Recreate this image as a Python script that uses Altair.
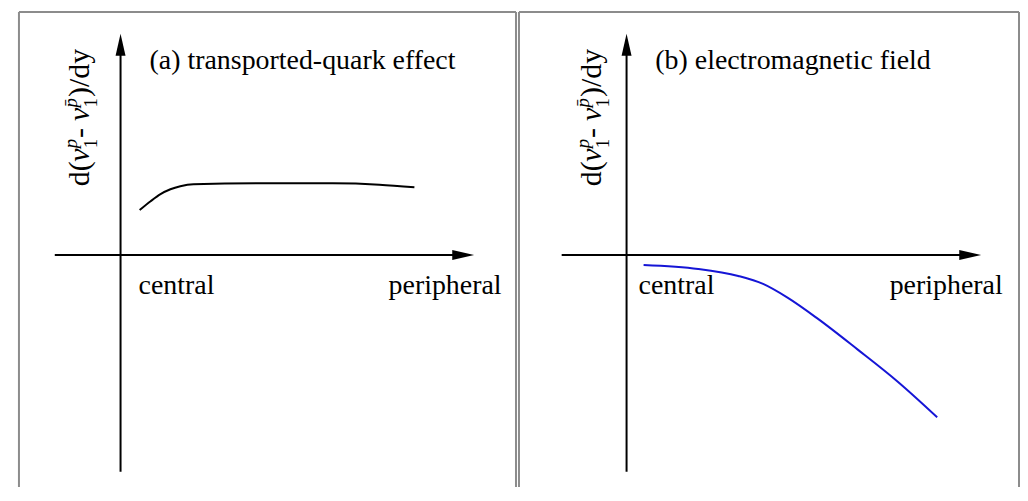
import altair as alt
import pandas as pd

# ---- data (arbitrary units, axes cross at 0,0; arrow tips at 1) ----
# Panel (a): transported-quark effect
cent_a = [0.054, 0.085, 0.113, 0.141, 0.169, 0.206, 0.414, 0.600, 0.732, 0.831]
sig_a = [0.203, 0.243, 0.275, 0.297, 0.311, 0.320, 0.324, 0.324, 0.318, 0.306]
# Panel (b): electromagnetic field
cent_b = [0.048, 0.202, 0.315, 0.385, 0.455, 0.539, 0.652, 0.764, 0.876]
sig_b = [-0.045, -0.063, -0.095, -0.131, -0.194, -0.288, -0.428, -0.572, -0.734]

titles = ["(a) transported-quark effect", "(b) electromagnetic field"]
x_labels = ["central", "peripheral"]
# y-axis label pieces: text, offset along text, offset across text, size, style
label_parts = ["d(", "ν", "p", "1", "- ", "ν", "p\u0304", "1", ")/dy"]
label_dx = [0, 24.5, 38, 38, 48.5, 65.5, 79, 79, 89.5]
label_dy = [0, 0, -12, 8, 0, 0, -12, 8, 0]
label_size = [30, 30, 19, 19, 30, 30, 19, 19, 30]
label_style = ["normal", "italic", "italic", "normal", "normal", "italic", "italic", "normal", "normal"]

FONT = "Liberation Serif"
Y_DOM = [-1.0495, 1.099]
H = 477

panels = [
    dict(cent=cent_a, sig=sig_a, title=titles[0], color="#000000",
         xdom=[-0.2873, 1.1183], width=499, axis_start=-0.186,
         label_x=-0.090, title_x=0.082, central_x=0.051, periph_x=0.758),
    dict(cent=cent_b, sig=sig_b, title=titles[1], color="#1515d6",
         xdom=[-0.3034, 1.1067], width=502, axis_start=-0.183,
         label_x=-0.073, title_x=0.081, central_x=0.034, periph_x=0.742),
]

Y_AXIS_BOTTOM = -0.98
TITLE_Y = 0.842
XLAB_Y = -0.176
LABEL_Y = 0.311
UP_ARROW = "M0,0L0.5,2.2L-0.5,2.2Z"
RIGHT_ARROW = "M0,0L-2.2,-0.5L-2.2,0.5Z"


def make_panel(p):
    xs = alt.Scale(domain=p["xdom"], nice=False, zero=False)
    ys = alt.Scale(domain=Y_DOM, nice=False, zero=False)
    X = lambda f: alt.X(f, type="quantitative", scale=xs, axis=None)
    Y = lambda f: alt.Y(f, type="quantitative", scale=ys, axis=None)
    xmin, xmax = p["xdom"]
    ymin, ymax = Y_DOM

    # frame (left, right, top)
    frame_v = pd.DataFrame({"x": [xmin, xmax], "y": [ymin, ymin], "y2": [ymax, ymax]})
    frame_h = pd.DataFrame({"x": [xmin], "x2": [xmax], "y": [ymax]})
    fv = alt.Chart(frame_v).mark_rule(color="#8c8c8c", strokeWidth=2).encode(
        x=X("x"), y=Y("y"), y2="y2")
    fh = alt.Chart(frame_h).mark_rule(color="#8c8c8c", strokeWidth=2).encode(
        x=X("x"), x2="x2", y=Y("y"))

    # axes shafts
    xaxis = alt.Chart(pd.DataFrame({"x": [p["axis_start"]], "x2": [0.97], "y": [0]})).mark_rule(
        color="black", strokeWidth=2).encode(x=X("x"), x2="x2", y=Y("y"))
    yaxis = alt.Chart(pd.DataFrame({"x": [0], "y": [Y_AXIS_BOTTOM], "y2": [0.97]})).mark_rule(
        color="black", strokeWidth=2).encode(x=X("x"), y=Y("y"), y2="y2")
    up = alt.Chart(pd.DataFrame({"x": [0], "y": [1]})).mark_point(
        shape=UP_ARROW, size=400, filled=True, color="black", opacity=1, strokeWidth=0
    ).encode(x=X("x"), y=Y("y"))
    right = alt.Chart(pd.DataFrame({"x": [1], "y": [0]})).mark_point(
        shape=RIGHT_ARROW, size=400, filled=True, color="black", opacity=1, strokeWidth=0
    ).encode(x=X("x"), y=Y("y"))

    # curve
    curve = alt.Chart(pd.DataFrame({"c": p["cent"], "s": p["sig"]})).mark_line(
        color=p["color"], strokeWidth=2, interpolate="monotone"
    ).encode(x=X("c"), y=Y("s"), order="c:Q")

    # texts
    txt = pd.DataFrame({
        "x": [p["title_x"], p["central_x"], p["periph_x"]],
        "y": [TITLE_Y, XLAB_Y, XLAB_Y],
        "t": [p["title"], x_labels[0], x_labels[1]],
    })
    texts = alt.Chart(txt).mark_text(
        font=FONT, fontSize=28, align="left", baseline="alphabetic", color="black"
    ).encode(x=X("x"), y=Y("y"), text="t:N")

    layers = [fv, fh, xaxis, yaxis, up, right, curve, texts]
    anchor = pd.DataFrame({"x": [p["label_x"]], "y": [LABEL_Y]})
    for t, dx, dy, sz, st in zip(label_parts, label_dx, label_dy, label_size, label_style):
        layers.append(
            alt.Chart(anchor).mark_text(
                text=t, font=FONT, fontSize=sz, fontStyle=st, angle=270,
                align="left", baseline="alphabetic", dx=dx, dy=dy, color="black"
            ).encode(x=X("x"), y=Y("y"))
        )
    return alt.layer(*layers).properties(width=p["width"], height=H)


chart = alt.hconcat(*[make_panel(p) for p in panels], spacing=3, bounds="flush").properties(
    padding={"left": 10, "top": 2, "right": 0, "bottom": 0}
).configure_view(strokeWidth=0)

chart.save("out.html", embed_options={"renderer": "svg", "actions": False})
